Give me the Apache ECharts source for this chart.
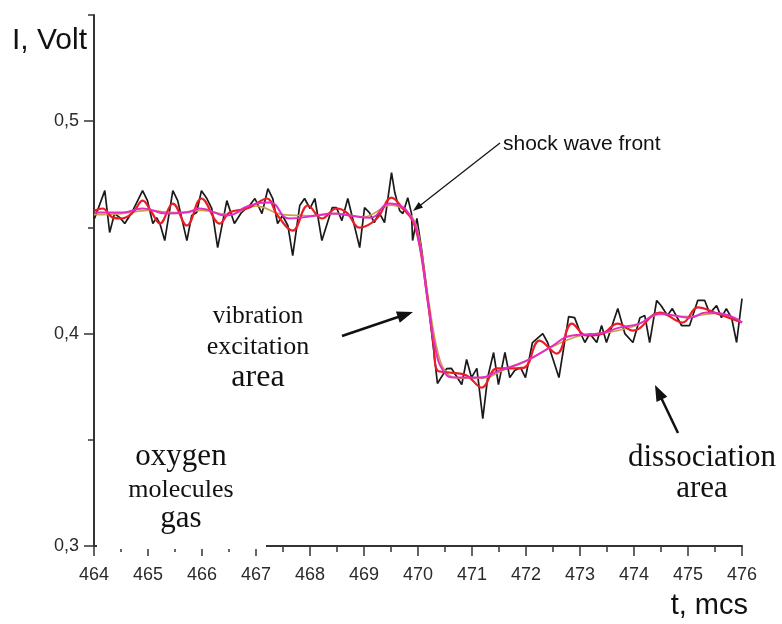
<!DOCTYPE html>
<html>
<head>
<meta charset="utf-8">
<script src="https://cdn.jsdelivr.net/npm/echarts@6/dist/echarts.min.js"></script>
<style>
  html, body { margin: 0; padding: 0; background: #fff; }
  #chart { width: 782px; height: 624px; }
</style>
</head>
<body>
<div id="chart"></div>
<script>
// raw signal (black)
const blackT = [464.01, 464.20, 464.29, 464.38, 464.48, 464.57, 464.70, 464.90, 464.99, 465.09,
  465.16, 465.22, 465.31, 465.46, 465.55, 465.72, 465.81, 465.90, 465.99, 466.09,
  466.18, 466.29, 466.46, 466.60, 466.73, 466.88, 466.98, 467.11, 467.22, 467.31,
  467.40, 467.49, 467.59, 467.68, 467.81, 467.90, 468.00, 468.09, 468.22, 468.41,
  468.49, 468.59, 468.70, 468.79, 468.92, 469.01, 469.10, 469.19, 469.28, 469.38,
  469.51, 469.57, 469.66, 469.72, 469.81, 469.88, 469.90, 469.98, 470.07, 470.18,
  470.27, 470.36, 470.53, 470.62, 470.81, 470.90, 470.99, 471.09, 471.20, 471.29,
  471.40, 471.49, 471.61, 471.70, 471.79, 471.90, 471.99, 472.12, 472.31, 472.40,
  472.61, 472.79, 472.90, 472.99, 473.09, 473.18, 473.31, 473.40, 473.49, 473.70,
  473.83, 473.98, 474.11, 474.20, 474.29, 474.42, 474.50, 474.62, 474.71, 474.88,
  475.03, 475.18, 475.31, 475.40, 475.53, 475.62, 475.71, 475.81, 475.90, 476.00];
const blackV = [0.4542, 0.4673, 0.4476, 0.4565, 0.4546, 0.4518, 0.4570, 0.4673, 0.4626, 0.4518,
  0.4546, 0.4518, 0.4438, 0.4673, 0.4626, 0.4438, 0.4556, 0.4570, 0.4673, 0.4636,
  0.4589, 0.4405, 0.4626, 0.4518, 0.4570, 0.4603, 0.4636, 0.4565, 0.4682, 0.4636,
  0.4518, 0.4556, 0.4509, 0.4367, 0.4603, 0.4636, 0.4589, 0.4636, 0.4438, 0.4593,
  0.4593, 0.4532, 0.4636, 0.4542, 0.4405, 0.4593, 0.4570, 0.4523, 0.4570, 0.4523,
  0.4758, 0.4664, 0.4579, 0.4565, 0.4640, 0.4565, 0.4438, 0.4542, 0.4391, 0.4170,
  0.3968, 0.3765, 0.3835, 0.3836, 0.3760, 0.3878, 0.3793, 0.3836, 0.3600, 0.3793,
  0.3911, 0.3760, 0.3911, 0.3793, 0.3826, 0.3840, 0.3793, 0.3958, 0.4000, 0.3958,
  0.3793, 0.4080, 0.4075, 0.4014, 0.3958, 0.4000, 0.3958, 0.4038, 0.3958, 0.4118,
  0.4000, 0.3958, 0.4075, 0.4085, 0.3958, 0.4156, 0.4132, 0.4085, 0.4118, 0.4038,
  0.4038, 0.4156, 0.4156, 0.4095, 0.4132, 0.4075, 0.4118, 0.4071, 0.3958, 0.4165];

// light smoothing (red)
const redT = [464.01, 464.16, 464.35, 464.51, 464.72, 464.90, 465.07, 465.22, 465.46, 465.72,
  465.99, 466.33, 466.51, 466.83, 467.00, 467.20, 467.40, 467.68, 467.96, 468.22,
  468.49, 468.68, 468.92, 469.24, 469.51, 469.72, 469.90, 470.03, 470.18, 470.29,
  470.36, 470.58, 470.90, 471.18, 471.46, 471.75, 471.97, 472.25, 472.57, 472.85,
  473.12, 473.42, 473.70, 473.98, 474.48, 474.90, 475.18, 475.53, 476.00];
const redV = [0.4579, 0.4589, 0.4546, 0.4542, 0.4570, 0.4626, 0.4570, 0.4518, 0.4612, 0.4509,
  0.4636, 0.4518, 0.4570, 0.4589, 0.4612, 0.4636, 0.4556, 0.4485, 0.4603, 0.4542,
  0.4589, 0.4570, 0.4499, 0.4542, 0.4640, 0.4589, 0.4532, 0.4414, 0.4156, 0.3944,
  0.3826, 0.3817, 0.3803, 0.3746, 0.3836, 0.3836, 0.3840, 0.3967, 0.3906, 0.4047,
  0.3991, 0.4000, 0.4047, 0.4014, 0.4099, 0.4052, 0.4123, 0.4095, 0.4052];

// stronger smoothing (olive)
const oliveT = [464.0, 464.5, 465.0, 465.5, 466.0, 466.5, 467.0, 467.5, 468.0, 468.5,
  469.0, 469.5, 469.85, 470.0, 470.2, 470.38, 470.55, 470.8, 471.2, 471.6,
  472.0, 472.5, 473.0, 473.5, 474.0, 474.5, 475.0, 475.5, 476.0];
const oliveV = [0.4560, 0.4565, 0.4580, 0.4570, 0.4580, 0.4560, 0.4600, 0.4560, 0.4555, 0.4565,
  0.4550, 0.4605, 0.4560, 0.4480, 0.4150, 0.3900, 0.3810, 0.3790, 0.3790, 0.3830,
  0.3870, 0.3940, 0.3990, 0.4005, 0.4035, 0.4090, 0.4080, 0.4095, 0.4055];

// strongest smoothing (magenta)
const magentaT = [464.01, 464.53, 464.90, 465.35, 465.72, 465.96, 466.46, 466.88, 467.25, 467.62,
  468.12, 468.42, 468.73, 469.11, 469.48, 469.66, 469.85, 470.00, 470.18, 470.33,
  470.49, 470.67, 471.14, 471.51, 472.01, 472.44, 472.86, 473.36, 473.73, 474.10,
  474.48, 475.03, 475.34, 475.64, 476.00];
const magentaV = [0.4570, 0.4570, 0.4589, 0.4565, 0.4570, 0.4589, 0.4556, 0.4603, 0.4617, 0.4542,
  0.4556, 0.4565, 0.4556, 0.4546, 0.4612, 0.4603, 0.4556, 0.4462, 0.4156, 0.3920,
  0.3817, 0.3793, 0.3793, 0.3826, 0.3873, 0.3934, 0.3991, 0.4000, 0.4028, 0.4047,
  0.4094, 0.4075, 0.4099, 0.4094, 0.4052];

const majorY = [0.3, 0.4, 0.5];

const pairs = (ts, vs) => ts.map((t, i) => [t, vs[i]]);

// arrow made of a shaft and a filled head
function arrow(x1, y1, x2, y2, w, len, wid) {
  const dx = x2 - x1, dy = y2 - y1;
  const d = Math.sqrt(dx * dx + dy * dy);
  const ux = dx / d, uy = dy / d;
  const bx = x2 - ux * len, by = y2 - uy * len;
  const nx = -uy * wid / 2, ny = ux * wid / 2;
  return [
    { type: "line", z: 110, shape: { x1, y1, x2: bx + ux * 1, y2: by + uy * 1 },
      style: { stroke: "#111", lineWidth: w } },
    { type: "polygon", z: 110, shape: { points: [[x2, y2], [bx + nx, by + ny], [bx - nx, by - ny]] },
      style: { fill: "#111" } },
  ];
}

function label(text, x, y, size, family, align) {
  return {
    type: "text", z: 110, x, y,
    style: {
      text, fill: "#111", font: size + "px " + family,
      textAlign: align || "center", textVerticalAlign: "middle",
    },
  };
}

const serif = "'Liberation Serif', 'DejaVu Serif', serif";
const sans = "'Liberation Sans', Arial, sans-serif";

const chart = echarts.init(document.getElementById("chart"));

chart.setOption({
  animation: false,
  backgroundColor: "#fff",
  grid: { left: 94, right: 40, top: 15, bottom: 78 },
  xAxis: {
    type: "value", min: 464, max: 476, interval: 1,
    axisLine: { lineStyle: { color: "#333", width: 2 } },
    axisTick: { length: 10, lineStyle: { color: "#333", width: 1.5 } },
    minorTick: { show: true, splitNumber: 2, length: 6, lineStyle: { color: "#333", width: 1.5 } },
    splitLine: { show: false },
    axisLabel: { margin: 20, color: "#2a2a2a", fontSize: 18, fontFamily: sans },
  },
  yAxis: [
    {
      type: "value", min: 0.3, max: 0.55, interval: 0.05,
      axisLine: { show: true, lineStyle: { color: "#333", width: 2 } },
      axisTick: { length: 6, lineStyle: { color: "#333", width: 1.5 } },
      splitLine: { show: false },
      axisLabel: {
        margin: 15, color: "#2a2a2a", fontSize: 18, fontFamily: sans,
        formatter: (v) => (majorY.some((m) => Math.abs(m - v) < 1e-6) ? v.toFixed(1).replace(".", ",") : ""),
      },
    },
    {
      type: "value", min: 0.3, max: 0.55, position: "left",
      axisLine: { show: false },
      axisTick: { show: true, length: 10, customValues: majorY, lineStyle: { color: "#333", width: 1.5 } },
      axisLabel: { show: false },
      splitLine: { show: false },
    },
  ],
  series: [
    { type: "line", data: pairs(blackT, blackV), showSymbol: false,
      lineStyle: { color: "#1a1a1a", width: 1.7 }, z: 2 },
    { type: "line", data: pairs(oliveT, oliveV), showSymbol: false, smooth: 0.4,
      lineStyle: { color: "#c8a048", width: 1.6 }, z: 3 },
    { type: "line", data: pairs(redT, redV), showSymbol: false, smooth: 0.4,
      lineStyle: { color: "#ec1c24", width: 2.2 }, z: 4 },
    { type: "line", data: pairs(magentaT, magentaV), showSymbol: false, smooth: 0.5,
      lineStyle: { color: "#e42cc4", width: 2 }, z: 5 },
  ],
  graphic: [
    // white label box in the lower left covering part of the x axis line
    { type: "rect", z: 100, shape: { x: 97, y: 430, width: 169, height: 119 }, style: { fill: "#fff" } },
    label("I, Volt", 12, 41, 30, sans, "left"),
    label("t, mcs", 748, 606, 29, sans, "right"),
    label("shock wave front", 503, 144, 21, sans, "left"),
    label("vibration", 258, 316, 25, serif),
    label("excitation", 258, 347, 26, serif),
    label("area", 258, 378, 32, serif),
    label("oxygen", 181, 457, 31, serif),
    label("molecules", 181, 490, 26, serif),
    label("gas", 181, 519, 31, serif),
    label("dissociation", 702, 458, 31, serif),
    label("area", 702, 489, 31, serif),
    ...arrow(500, 143, 413, 211, 1.2, 10, 7),
    ...arrow(342, 336, 413, 312, 2.5, 16, 12),
    ...arrow(678, 433, 655, 385, 2.5, 16, 12),
  ],
});
</script>
</body>
</html>
